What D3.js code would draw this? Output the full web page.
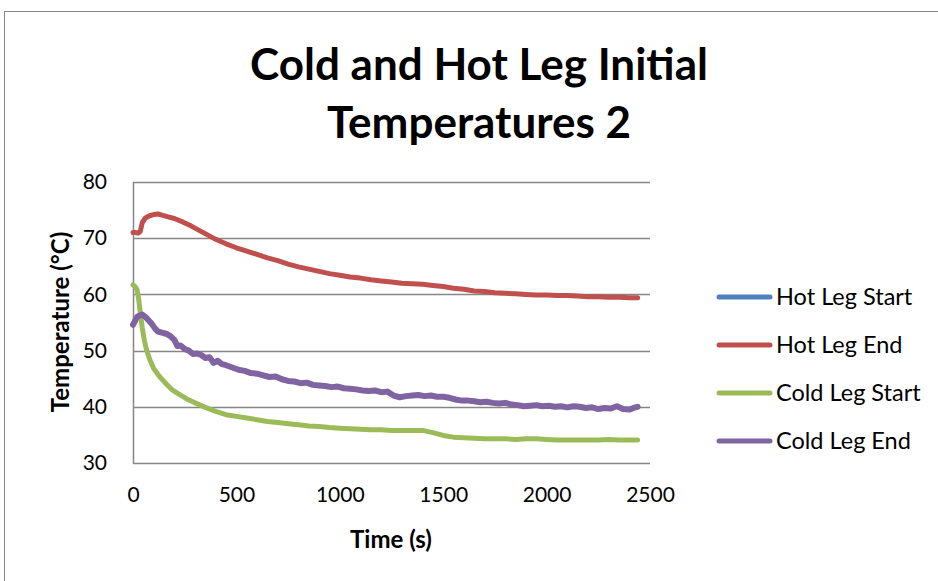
<!DOCTYPE html>
<html><head><meta charset="utf-8">
<script src="https://cdn.jsdelivr.net/npm/d3@7"></script>
<style>body{margin:0;background:#fff}svg{display:block}</style>
</head><body>
<script>
const seriesNames = ["Hot Leg Start", "Hot Leg End", "Cold Leg Start", "Cold Leg End"];
const seriesColors = ["#4F81BD", "#C0504D", "#9BBB59", "#8064A2"];
const xTicks = [0, 500, 1000, 1500, 2000, 2500];
const yTicks = [30, 40, 50, 60, 70, 80];

const hotStart = [];
const hotEndT = [0,10,25,35,45,60,80,100,120,140,170,200,240,280,320,360,400,450,500,550,600,650,700,750,800,850,900,950,1000,1050,1100,1150,1200,1250,1300,1350,1400,1450,1500,1550,1600,1650,1700,1750,1800,1850,1900,1950,2000,2050,2100,2150,2200,2250,2300,2350,2400,2440];
const hotEndV = [71.0,71.0,70.9,71.2,72.8,73.6,74.0,74.2,74.3,74.1,73.8,73.5,72.9,72.2,71.4,70.6,69.8,69.0,68.3,67.7,67.1,66.5,66.0,65.4,64.9,64.5,64.1,63.7,63.4,63.1,62.9,62.6,62.4,62.2,62.0,61.9,61.8,61.6,61.4,61.1,60.9,60.6,60.5,60.3,60.2,60.1,60.0,59.9,59.9,59.8,59.8,59.7,59.6,59.6,59.5,59.5,59.4,59.4];
const coldStartT = [0,10,20,28,35,45,55,65,80,100,130,160,190,220,260,300,350,400,450,500,550,600,650,700,750,800,850,900,950,1000,1050,1100,1150,1200,1250,1300,1350,1400,1450,1500,1550,1600,1650,1700,1750,1800,1850,1900,1950,2000,2050,2100,2150,2200,2250,2300,2350,2400,2440];
const coldStartV = [61.7,61.4,60.8,59.0,56.8,54.0,51.8,50.2,48.5,46.8,45.3,44.1,43.0,42.3,41.4,40.7,39.9,39.2,38.6,38.3,38.0,37.7,37.4,37.2,37.0,36.8,36.6,36.5,36.3,36.2,36.1,36.0,35.9,35.9,35.8,35.8,35.8,35.8,35.4,34.9,34.6,34.5,34.4,34.3,34.3,34.3,34.2,34.3,34.3,34.2,34.1,34.1,34.1,34.1,34.1,34.2,34.1,34.1,34.1];
const coldEndT = [0,10,20,30,45,60,75,90,105,120,140,160,180,200,215,230,250,270,290,310,330,350,370,390,410,430,450,480,510,540,570,600,630,660,690,720,750,780,810,840,870,900,930,960,990,1020,1050,1080,1110,1140,1170,1200,1230,1260,1290,1320,1350,1380,1410,1440,1470,1500,1530,1560,1590,1620,1650,1680,1710,1740,1770,1800,1830,1860,1890,1920,1950,1980,2010,2040,2070,2100,2130,2160,2190,2220,2250,2280,2310,2340,2370,2400,2420,2440];
const coldEndV = [54.6,55.3,56.0,56.2,56.4,56.0,55.4,54.8,54.0,53.4,53.2,53.0,52.6,51.9,50.8,50.9,50.3,50.0,49.4,49.5,49.2,48.7,48.8,47.8,48.2,47.6,47.4,47.0,46.6,46.4,46.0,45.9,45.6,45.3,45.4,44.9,44.6,44.5,44.2,44.3,43.9,43.8,43.7,43.5,43.6,43.3,43.2,43.1,42.9,42.8,42.9,42.6,42.7,42.0,41.7,41.9,42.0,42.1,41.9,42.0,41.8,41.8,41.6,41.3,41.1,41.1,41.0,40.8,40.9,40.7,40.6,40.7,40.4,40.3,40.1,40.2,40.3,40.1,40.2,40.0,40.1,39.9,40.1,40.0,39.8,39.9,39.6,39.8,39.7,40.1,39.6,39.5,39.8,40.0];

const series = [
  hotStart,
  hotEndT.map((t,i)=>[t, hotEndV[i]]),
  coldStartT.map((t,i)=>[t, coldStartV[i]]),
  coldEndT.map((t,i)=>[t, coldEndV[i]])
];

const W = 938, H = 581;
const FONT = "Lato, 'Open Sans', sans-serif";
const svg = d3.select("body").append("svg").attr("width", W).attr("height", H);

// outer chart border
svg.append("rect").attr("x", 4.5).attr("y", 11.5).attr("width", 960).attr("height", 600)
  .attr("fill", "none").attr("stroke", "#868686").attr("stroke-width", 1);

const x = d3.scaleLinear().domain([0, 2500]).range([133, 650]);
const y = d3.scaleLinear().domain([30, 80]).range([463, 182]);

// gridlines
svg.append("g").selectAll("line").data(yTicks).join("line")
  .attr("x1", 133).attr("x2", 650)
  .attr("y1", d => Math.round(y(d)) + 0.5).attr("y2", d => Math.round(y(d)) + 0.5)
  .attr("stroke", "#868686").attr("stroke-width", 1.5);
svg.append("line").attr("x1", 133.5).attr("x2", 133.5).attr("y1", 182).attr("y2", 464)
  .attr("stroke", "#868686").attr("stroke-width", 1.5);

// y tick labels
const yAxis = svg.append("g").attr("transform", "translate(133,0)")
  .call(d3.axisLeft(y).tickValues(yTicks).tickSize(0).tickPadding(26).tickFormat(d3.format("d")));
yAxis.select(".domain").remove();
yAxis.selectAll("text").attr("font-family", FONT).attr("font-size", 21).attr("fill", "#000");

// x tick labels
const xAxis = svg.append("g").attr("transform", "translate(0,463)")
  .call(d3.axisBottom(x).tickValues(xTicks).tickSize(0).tickPadding(24).tickFormat(d3.format("d")));
xAxis.select(".domain").remove();
xAxis.selectAll("text").attr("font-family", FONT).attr("font-size", 21).attr("fill", "#000");

// lines
const line = d3.line().x(d => x(d[0])).y(d => y(d[1]));
series.forEach((s, i) => {
  if (!s.length) return;
  svg.append("path").datum(s).attr("d", line).attr("fill", "none")
    .attr("stroke", seriesColors[i]).attr("stroke-width", i === 3 ? 6 : 5)
    .attr("stroke-linejoin", "round").attr("stroke-linecap", "round");
});

// title
const title = svg.append("text").attr("text-anchor", "middle").attr("font-family", FONT)
  .attr("font-weight", "bold").attr("font-size", 44).attr("fill", "#000");
title.append("tspan").attr("x", 479).attr("y", 80).text("Cold and Hot Leg Initial");
title.append("tspan").attr("x", 479).attr("y", 138).text("Temperatures 2");

// axis titles
svg.append("text").attr("text-anchor", "middle").attr("font-family", FONT).attr("font-weight", "bold")
  .attr("font-size", 24).attr("x", 391).attr("y", 548).text("Time (s)");
svg.append("text").attr("text-anchor", "middle").attr("font-family", FONT).attr("font-weight", "bold")
  .attr("font-size", 24).attr("transform", "translate(69,322) rotate(-90)").text("Temperature (°C)");

// legend
const legY = [297, 345, 393, 441];
const leg = svg.append("g");
seriesNames.forEach((n, i) => {
  leg.append("line").attr("x1", 719).attr("x2", 770).attr("y1", legY[i]).attr("y2", legY[i])
    .attr("stroke", seriesColors[i]).attr("stroke-width", 5).attr("stroke-linecap", "round");
  leg.append("text").attr("x", 776).attr("y", legY[i] + 8).attr("font-family", FONT)
    .attr("font-size", 23.5).attr("fill", "#000").text(n);
});
</script>
</body></html>
